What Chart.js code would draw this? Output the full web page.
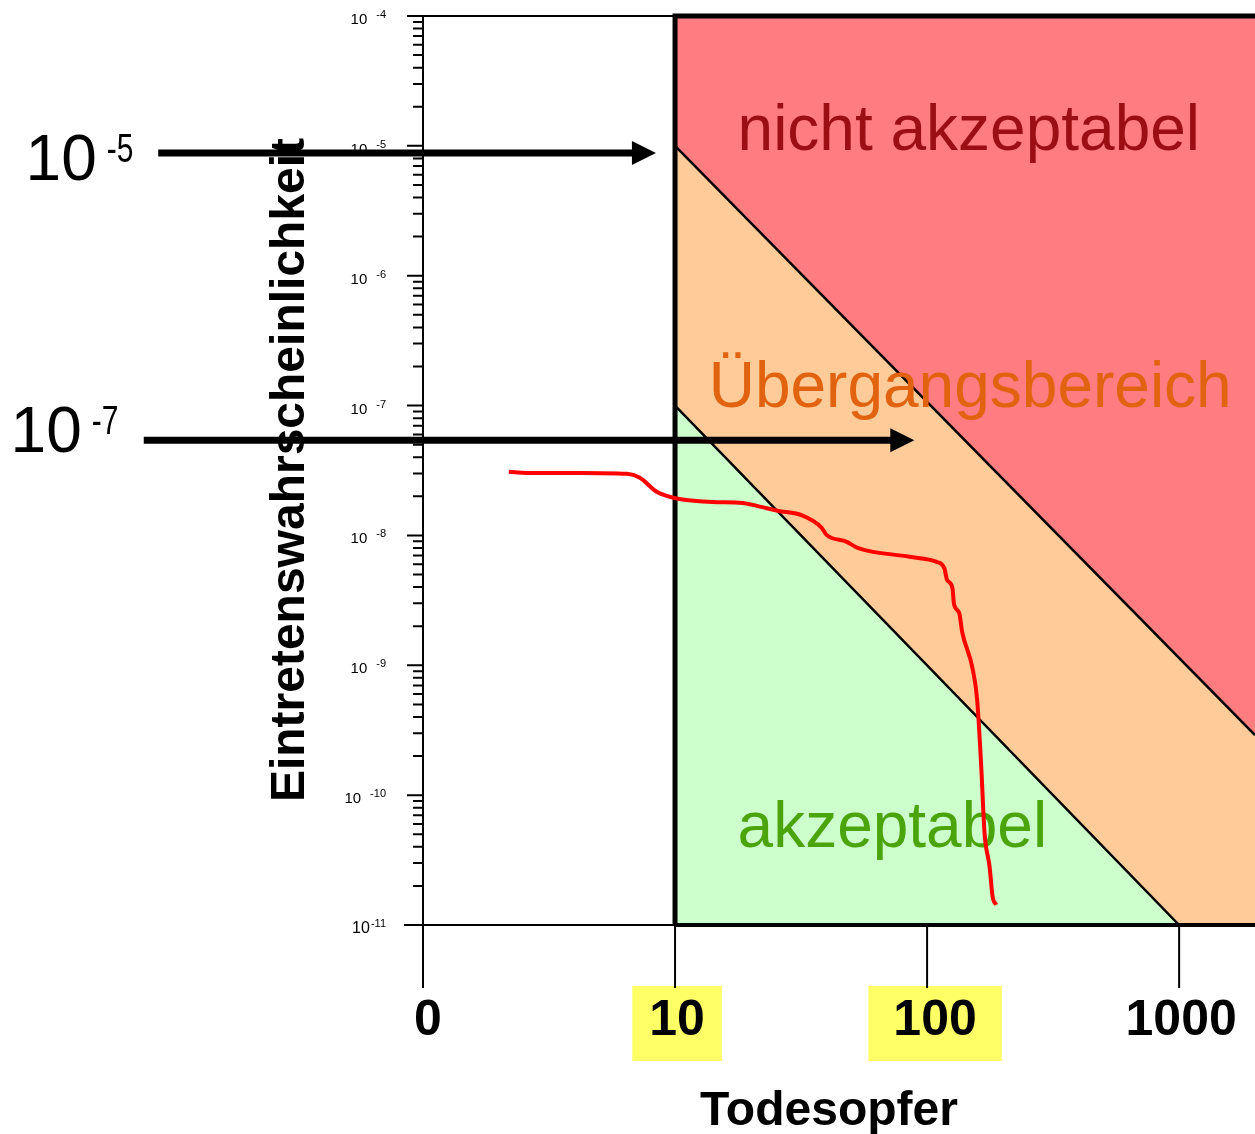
<!DOCTYPE html>
<html>
<head>
<meta charset="utf-8">
<script src="https://cdn.jsdelivr.net/npm/chart.js@4.4.0/dist/chart.umd.min.js"></script>
<style>
  html, body { margin: 0; padding: 0; background: #fff; }
  #wrap { width: 1255px; height: 1134px; position: relative; }
</style>
</head>
<body>
<div id="wrap"><canvas id="fn"></canvas></div>
<script>
// x = Todesopfer, y = Eintretenswahrscheinlichkeit (both log)
var xMin = 1, xMax = 2000
var yMin = 1e-11, yMax = 1e-4

var xTickValues = [1, 10, 100, 1000]
var xTickLabels = ['0', '10', '100', '1000']
var xTickMarked = [false, true, true, false]
var yTickExponents = [-4, -5, -6, -7, -8, -9, -10, -11]

// region borders
var topEdge = [{x: 10, y: 1e-4}, {x: 2000, y: 1e-4}]
var upperLimit = [{x: 10, y: 1e-5}, {x: 2000, y: 2.9e-10}]
var lowerLimit = [{x: 10, y: 1e-7}, {x: 1000, y: 1e-11}, {x: 2000, y: 1e-11}]
var frameLine = [{x: 10, y: 1e-11}, {x: 10, y: 1e-4}, {x: 2000, y: 1e-4}]
var bottomLine = [{x: 10, y: 1e-11}, {x: 2000, y: 1e-11}]

// FN curve
var curveN = [2.19, 2.58, 4.19, 6.44, 7.25, 8.46, 9.27, 10.4, 14.1, 18.5, 21.1, 25.5, 32.1, 38.1, 39.9, 48, 53,
  85.1, 109, 117, 120, 126, 128, 134, 138, 151, 158, 164, 169, 177, 182, 188]
var curveP = [3.09e-8, 3.03e-8, 3.03e-8, 2.98e-8, 2.78e-8, 2.17e-8, 2.02e-8, 1.91e-8, 1.81e-8, 1.78e-8, 1.69e-8,
  1.55e-8, 1.42e-8, 1.15e-8, 1.01e-8, 8.93e-9, 8.03e-9, 6.85e-9, 6.26e-9, 5.63e-9, 4.55e-9, 3.95e-9, 2.92e-9,
  2.54e-9, 1.78e-9, 9.73e-10, 5.42e-10, 1.66e-10, 5.14e-11, 2.81e-11, 1.65e-11, 1.43e-11]

var regionTexts = [
  {text: 'nicht akzeptabel', n: 17.7, p: 9.3e-6, color: '#9a0e14'},
  {text: 'Übergangsbereich', n: 13.6, p: 9.8e-8, color: '#e2630f'},
  {text: 'akzeptabel', n: 17.7, p: 4.0e-11, color: '#4ca40c'}
]
var arrows = [
  {exp: '-5', from: 0.089, to: 8.4, p: 8.8e-6, labelN: 0.0265, labelP: 5.47e-6},
  {exp: '-7', from: 0.078, to: 89, p: 5.4e-8, labelN: 0.0231, labelP: 4.4e-8}
]

var curveData = curveN.map(function (n, i) { return {x: n, y: curveP[i]} })

var FONT = '"Liberation Sans", Arial, sans-serif'

var decor = {
  id: 'decor',
  beforeDatasetDraw: function (chart, args) {
    if (args.index !== 5) return
    var ctx = chart.ctx, sx = chart.scales.x, sy = chart.scales.y
    ctx.save()
    ctx.font = '64px ' + FONT
    ctx.textBaseline = 'alphabetic'
    ctx.textAlign = 'left'
    regionTexts.forEach(function (r) {
      ctx.fillStyle = r.color
      ctx.fillText(r.text, sx.getPixelForValue(r.n), sy.getPixelForValue(r.p))
    })
    ctx.restore()
  },
  afterDraw: function (chart) {
    var ctx = chart.ctx, sx = chart.scales.x, sy = chart.scales.y
    var a = chart.chartArea
    var x10 = sx.getPixelForValue(10)
    ctx.save()
    ctx.strokeStyle = '#000'
    ctx.fillStyle = '#000'

    // thin frame on the left part
    ctx.lineWidth = 2
    ctx.beginPath()
    ctx.moveTo(a.left - 16, a.top); ctx.lineTo(x10, a.top)
    ctx.moveTo(a.left - 19, a.bottom); ctx.lineTo(x10, a.bottom)
    ctx.moveTo(a.left, a.top); ctx.lineTo(a.left, a.bottom + 25)
    ctx.stroke()

    // y ticks (log, major + minor)
    ctx.beginPath()
    yTickExponents.forEach(function (e) {
      var y = sy.getPixelForValue(Math.pow(10, e))
      ctx.moveTo(a.left - 16, y); ctx.lineTo(a.left, y)
      if (e > -11) {
        for (var k = 2; k <= 9; k++) {
          var ym = sy.getPixelForValue(k * Math.pow(10, e - 1))
          ctx.moveTo(a.left - 10, ym); ctx.lineTo(a.left, ym)
        }
      }
    })
    ctx.stroke()

    // y tick labels with exponent
    yTickExponents.forEach(function (e) {
      var y = sy.getPixelForValue(Math.pow(10, e))
      var ex = String(e)
      ctx.font = '11px ' + FONT
      var w = ctx.measureText(ex).width
      ctx.textAlign = 'left'
      ctx.fillText(ex, 386 - w, y + 2)
      ctx.font = (e === -11 ? '16px ' : '15px ') + FONT
      ctx.textAlign = 'right'
      ctx.fillText('10', 386 - w - (e === -11 ? 1 : 9), y + 8)
    })

    // x ticks, highlight boxes, labels
    ctx.font = 'bold 50px ' + FONT
    ctx.textAlign = 'center'
    xTickValues.forEach(function (v, i) {
      var x = sx.getPixelForValue(v)
      var cx = x + (i === 0 ? 5 : (i === 2 ? 8 : 2))
      if (xTickMarked[i]) {
        var w = ctx.measureText(xTickLabels[i]).width + (i === 2 ? 50 : 34)
        ctx.fillStyle = '#ffff66'
        ctx.fillRect(cx - w / 2, 986, w, 75)
      }
      ctx.lineWidth = 2
      ctx.beginPath()
      ctx.moveTo(x, a.bottom); ctx.lineTo(x, a.bottom + 63)
      ctx.stroke()
      ctx.fillStyle = '#000'
      ctx.fillText(xTickLabels[i], cx, 1035)
    })

    // axis titles
    ctx.font = 'bold 48px ' + FONT
    ctx.textAlign = 'center'
    ctx.fillText('Todesopfer', 829, 1125)
    ctx.save()
    ctx.translate(304, 470)
    ctx.rotate(-Math.PI / 2)
    ctx.fillText('Eintretenswahrscheinlichkeit', 0, 0)
    ctx.restore()

    // arrows with 10^x labels
    arrows.forEach(function (ar) {
      var y = sy.getPixelForValue(ar.p)
      var x0 = sx.getPixelForValue(ar.from)
      var x1 = sx.getPixelForValue(ar.to)
      ctx.lineWidth = 7
      ctx.beginPath()
      ctx.moveTo(x0, y); ctx.lineTo(x1 - 20, y)
      ctx.stroke()
      ctx.beginPath()
      ctx.moveTo(x1, y); ctx.lineTo(x1 - 24, y - 12); ctx.lineTo(x1 - 24, y + 12)
      ctx.closePath()
      ctx.fill()
      var lx = sx.getPixelForValue(ar.labelN)
      var ly = sy.getPixelForValue(ar.labelP)
      ctx.textAlign = 'left'
      ctx.font = '64px ' + FONT
      ctx.fillText('10', lx, ly)
      var w = ctx.measureText('10').width
      ctx.font = '40px ' + FONT
      ctx.save()
      ctx.translate(lx + w + 10, ly - 18)
      ctx.scale(0.75, 1)
      ctx.fillText(ar.exp, 0, 0)
      ctx.restore()
    })
    ctx.restore()
  }
}

var ctx = document.getElementById('fn')
var fnChart = new Chart(ctx, {
  type: 'line',
  data: {
    datasets: [{
      data: topEdge,
      fill: {value: yMin},
      backgroundColor: '#ff7c80',
      borderWidth: 0,
      pointRadius: 0,
      order: 6
    }, {
      data: upperLimit,
      fill: {value: yMin},
      backgroundColor: '#ffcc99',
      borderColor: '#000',
      borderWidth: 2.5,
      pointRadius: 0,
      order: 5
    }, {
      data: lowerLimit,
      fill: {value: yMin},
      backgroundColor: '#ccffcc',
      borderColor: '#000',
      borderWidth: 2.5,
      pointRadius: 0,
      order: 4
    }, {
      data: frameLine,
      fill: false,
      borderColor: '#000',
      borderWidth: 5,
      pointRadius: 0,
      clip: false,
      order: 3
    }, {
      data: bottomLine,
      fill: false,
      borderColor: '#000',
      borderWidth: 4,
      pointRadius: 0,
      clip: false,
      order: 2
    }, {
      data: curveData,
      fill: false,
      borderColor: '#ff0000',
      borderWidth: 4,
      pointRadius: 0,
      cubicInterpolationMode: 'monotone',
      order: 0
    }]
  },
  options: {
    responsive: true,
    maintainAspectRatio: false,
    animation: false,
    devicePixelRatio: 1,
    events: [],
    layout: {padding: {left: 423, top: 16, right: 0, bottom: 209}},
    plugins: {legend: {display: false}, tooltip: {enabled: false}},
    scales: {
      x: {type: 'logarithmic', min: xMin, max: xMax, display: false},
      y: {type: 'logarithmic', min: yMin, max: yMax, display: false}
    }
  },
  plugins: [decor]
})
</script>
</body>
</html>
